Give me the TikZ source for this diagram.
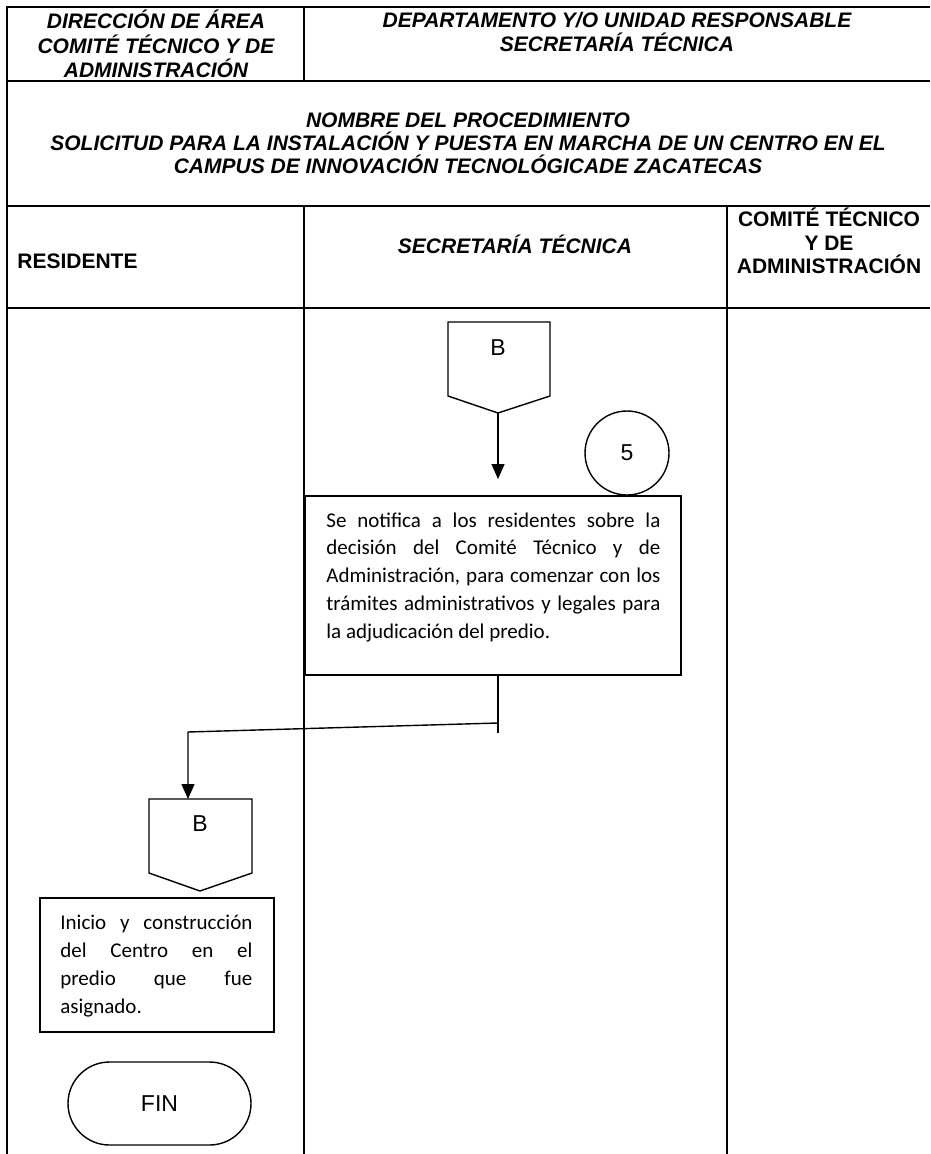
\documentclass[tikz,border=0pt]{standalone}
\usepackage{fontspec}
\setmainfont{Liberation Sans}
\newfontfamily\calib{Carlito}
\usetikzlibrary{arrows.meta,shapes.misc}

\begin{document}
\begin{tikzpicture}[x=0.5pt,y=-0.5pt,
  tbl/.style={line width=1pt},
  shp/.style={draw, line width=0.7pt},
  hdr/.style={font=\fontsize{10.5}{12.25}\selectfont\bfseries\itshape, align=center, inner sep=0},
  hdrtwo/.style={font=\fontsize{10.5}{11.4}\selectfont\bfseries\itshape, align=center, inner sep=0},
  hdrup/.style={font=\fontsize{10.5}{11.8}\selectfont\bfseries, align=center, inner sep=0},
  bodyline/.style={font=\calib\fontsize{10.5}{14}\selectfont, anchor=base west, inner sep=0},
  lbl/.style={font=\fontsize{11.5}{13}\selectfont, inner sep=0},
  arr/.style={line width=0.7pt, -{Triangle[width=6.5pt,length=7.5pt]}},
  lnk/.style={line width=0.7pt}]
\useasboundingbox (0,0) rectangle (930,1154);

% table frame
\draw[tbl] (930,7) -- (7,7) -- (7,1154);
\draw[tbl] (7,81) -- (930,81);
\draw[tbl] (304,7) -- (304,81);
\draw[tbl] (7,206) -- (930,206);
\draw[tbl] (7,308) -- (930,308);
\draw[tbl] (304,206) -- (304,1154);
\draw[tbl] (727,206) -- (727,1154);

% header texts
\node[hdr] (h1) at (156,44) {DIRECCIÓN DE ÁREA\\COMITÉ TÉCNICO Y DE\\ADMINISTRACIÓN};
\node[hdr] (h2) at (617,32) {DEPARTAMENTO Y/O UNIDAD RESPONSABLE\\SECRETARÍA TÉCNICA};
\node[hdrtwo] (h3) at (468,143) {NOMBRE DEL PROCEDIMIENTO\\SOLICITUD PARA LA INSTALACIÓN Y PUESTA EN MARCHA DE UN CENTRO EN EL\\CAMPUS DE INNOVACIÓN TECNOLÓGICADE ZACATECAS};
\node[hdrup, anchor=west] (r1) at (17,261) {RESIDENTE};
\node[hdr] (r2) at (515,244) {SECRETARÍA TÉCNICA};
\node[hdrup] (r3) at (829,241) {COMITÉ TÉCNICO\\Y DE\\ADMINISTRACIÓN};

% off-page connector B (top)
\draw[lnk] (448,322) -- (550,322) -- (550,396) -- (498,413) -- (448,396) -- cycle;
\node[lbl] (b1) at (498,348) {B};
\coordinate (b1tip) at (498,413);
\coordinate (a1end) at (498,479);
\draw[arr] (b1tip) -- (a1end);

% circle 5
\node[shp, circle, minimum size=42pt, inner sep=0, font=\fontsize{11.5}{13}\selectfont] (c5) at (627,453) {5};

% process box 1
\node[shp, rectangle, minimum width=188pt, minimum height=89.5pt, inner sep=0] (box1) at (493,585.5) {};
\node[bodyline] (t1) at (326,527) {\makebox[167pt][s]{Se notifica a los residentes sobre la}};
\node[bodyline] (t2) at (326,554.75) {\makebox[167pt][s]{decisión del Comité Técnico y de}};
\node[bodyline] (t3) at (326,582.5) {\makebox[167pt][s]{Administración, para comenzar con los}};
\node[bodyline] (t4) at (326,610.25) {\makebox[167pt][s]{trámites administrativos y legales para}};
\node[bodyline] (t5) at (326,638) {la adjudicación del predio.};

% connector from box 1 to B (bottom)
\coordinate (box1b) at (498,675);
\coordinate (j1) at (498,723);
\coordinate (j1end) at (498,733);
\coordinate (bend) at (188,732);
\coordinate (b2in) at (188,799);
\draw[lnk] (box1b) -- (j1end);
\draw[arr] (j1) -- (bend) -- (b2in);

% off-page connector B (bottom)
\draw[lnk] (149,799) -- (252,799) -- (252,873) -- (200,891) -- (149,873) -- cycle;
\node[lbl] (b2) at (200,824) {B};

% process box 2
\node[shp, rectangle, minimum width=117pt, minimum height=67pt, inner sep=0] (box2) at (157,965) {};
\node[bodyline] (u1) at (60,929) {\makebox[96pt][s]{Inicio y construcción}};
\node[bodyline] (u2) at (60,957) {\makebox[96pt][s]{del Centro en el}};
\node[bodyline] (u3) at (60,985) {\makebox[96pt][s]{predio que fue}};
\node[bodyline] (u4) at (60,1013) {asignado.};

% terminal FIN
\node[shp, rounded rectangle, minimum width=91.5pt, minimum height=41.5pt, inner sep=0, font=\fontsize{11.5}{13}\selectfont] (fin) at (159.5,1103.5) {FIN};
\end{tikzpicture}
\end{document}
